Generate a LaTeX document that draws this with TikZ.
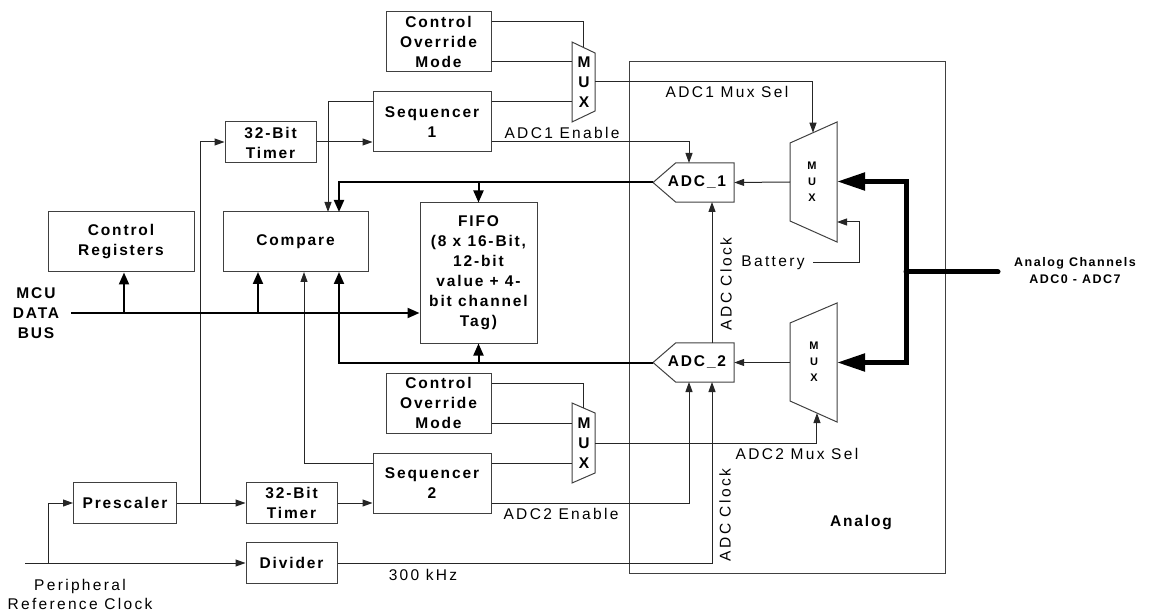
\documentclass[tikz,border=0pt]{standalone}
\usepackage{fontspec}
\setmainfont[LetterSpace=12]{Liberation Sans}
\usetikzlibrary{arrows.meta,calc}
\begin{document}
\begin{tikzpicture}[x=1pt,y=-1pt,
  box/.style={draw=black!75,line width=1pt,inner sep=0pt,align=center,font=\fontsize{15.5}{20}\selectfont\bfseries},
  shp/.style={draw=black!75,line width=1pt},
  lbl/.style={inner sep=0pt,font=\fontsize{15.5}{19}\selectfont\addfontfeature{LetterSpace=15}},
  blbl/.style={inner sep=0pt,align=center,font=\fontsize{15.5}{20}\selectfont\bfseries},
  wire/.style={line width=1pt,draw=black!85},
  arr/.style={-{Triangle[length=10pt,width=7pt]}},
  bus/.style={line width=2pt,draw=black},
  barr/.style={-{Triangle[length=12pt,width=10pt]}},
  fat/.style={line width=5pt,draw=black},
  farr/.style={-{Triangle[length=28pt,width=17pt]}}]
\useasboundingbox (0,0) rectangle (1151,612);

% analog region
\draw[shp] (629,62) rectangle (945,573);
\node[blbl] (analog) at (861,523) {Analog};

% boxes
\node[box,minimum width=105,minimum height=60] (com1) at (438.5,42) {Control\\Override\\Mode};
\node[box,minimum width=118,minimum height=60] (seq1) at (432,122) {Sequencer\\1};
\node[box,minimum width=91,minimum height=41] (tim1) at (270.5,142.5) {32-Bit\\Timer};
\node[box,minimum width=145,minimum height=60] (cmp) at (295.5,242) {Compare};
\node[box,minimum width=146,minimum height=60] (creg) at (121,242) {Control\\Registers};
\node[box,minimum width=117,minimum height=140] (fifo) at (478.5,273) {FIFO\\(8 x 16-Bit,\\12-bit\\value + 4-\\bit channel\\Tag)};
\node[box,minimum width=105,minimum height=60] (com2) at (438.5,403) {Control\\Override\\Mode};
\node[box,minimum width=118,minimum height=60] (seq2) at (432,483) {Sequencer\\2};
\node[box,minimum width=91,minimum height=41] (tim2) at (291.5,503) {32-Bit\\Timer};
\node[box,minimum width=103,minimum height=41] (pre) at (125,503) {Prescaler};
\node[box,minimum width=91,minimum height=41] (div) at (291.5,563) {Divider};

% ADC blocks
\node[inner sep=0pt,minimum width=58,minimum height=39] (adc1) at (705,182.5) {};
\draw[shp] (adc1.north east) -- (adc1.north west) -- (653,182.5) coordinate (adc1t) -- (adc1.south west) -- (adc1.south east) -- cycle;
\node[blbl] (adc1l) at (697,182.5) {ADC\_1};
\node[inner sep=0pt,minimum width=58,minimum height=39] (adc2) at (705,362.5) {};
\draw[shp] (adc2.north east) -- (adc2.north west) -- (653,362.5) coordinate (adc2t) -- (adc2.south west) -- (adc2.south east) -- cycle;
\node[blbl] (adc2l) at (697,362.5) {ADC\_2};

% digital muxes
\draw[shp] (572,42) coordinate (m1a) -- (595,53) coordinate (m1b) -- (595,111) -- (572,122) -- cycle;
\node[blbl] (m1t) at (584,82) {M\\U\\X};
\draw[shp] (572,403) coordinate (m2a) -- (595,413) coordinate (m2b) -- (595,473) -- (572,483) -- cycle;
\node[blbl] (m2t) at (584,443) {M\\U\\X};

% analog muxes
\draw[shp] (790,143) coordinate (a1a) -- (837,122) coordinate (a1b) -- (837,242) -- (790,221) -- cycle;
\node[inner sep=0pt,align=center,font=\fontsize{11}{16}\selectfont\bfseries] (a1t) at (812,182) {M\\U\\X};
\draw[shp] (790,323) -- (837,303) -- (837,422) coordinate (a2c) -- (790,401) coordinate (a2d) -- cycle;
\node[inner sep=0pt,align=center,font=\fontsize{11}{16}\selectfont\bfseries] (a2t) at (814,362) {M\\U\\X};

% coordinates on mux edges
\coordinate (m1top) at ($(m1a)!0.478!(m1b)$);
\coordinate (m2top) at ($(m2a)!0.478!(m2b)$);
\coordinate (a1top) at ($(a1a)!0.489!(a1b)$);
\coordinate (a2bot) at ($(a2d)!0.574!(a2c)$);

% control override / sequencer -> mux
\draw[wire] (com1.east |- 0,22) -| (m1top);
\draw[wire] (com1.east |- 0,62) -- (572,62);
\draw[wire] (seq1.east |- 0,102) -- (572,102);
\draw[wire] (com2.east |- 0,383) -| (m2top);
\draw[wire] (com2.east |- 0,423) -- (572,423);
\draw[wire] (seq2.east |- 0,463) -- (572,463);

% mux select lines
\draw[wire,arr] (595,82) -| (a1top);
\node[lbl] (sel1) at (727,92) {ADC1 Mux Sel};
\draw[wire,arr] (595,443) -| (a2bot);
\node[lbl] (sel2) at (797,454) {ADC2 Mux Sel};

% sequencer feedback to compare
\draw[wire,arr] (seq1.west |- 0,102) -| (328,212);
\draw[wire,arr] (seq2.west |- 0,463) -| (304,272);

% timers
\draw[wire,arr] (tim1.east |- 0,142) -- (seq1.west |- 0,142);
\draw[wire,arr] (tim2.east) -- (seq2.west |- tim2.east);
\draw[wire,arr] (pre.east) -- (tim2.west);
\draw[wire,arr] (200,503) |- (tim1.west |- 0,142);

% enables
\draw[wire,arr] (seq1.east |- 0,142) -| (689,163);
\node[lbl] (en1) at (562,133) {ADC1 Enable};
\draw[wire,arr] (seq2.east |- 0,503) -| (689,382);
\node[lbl] (en2) at (561,514) {ADC2 Enable};

% ADC clock
\draw[wire,arr] (712,343) -- (712,202);
\node[lbl,rotate=90] (ck1) at (726,284) {ADC Clock};
\draw[wire,arr] (div.east) -| (712,382);
\node[lbl,rotate=90] (ck2) at (725,515) {ADC Clock};
\node[lbl] (khz) at (423,575) {300 kHz};

% reference clock
\coordinate (clk) at (25,563);
\draw[wire,arr] (clk) -- (div.west);
\draw[wire,arr] (48,563) |- (pre.west);
\node[lbl,align=center] (prc) at (80,594) {Peripheral\\Reference Clock};

% analog mux -> ADC
\draw[wire,arr] (790,182) -- (adc1.east);
\draw[wire,arr] (790,362.5) -- (adc2.east);

% battery
\node[lbl] (bat) at (773,263) {Battery};
\draw[wire,arr] (813,263) -| (859,222) -- (837,222);

% ADC outputs
\draw[bus,barr] (adc1t) -| (339,212);
\draw[bus,barr] (478.5,182.5) -- (fifo.north);
\draw[bus,barr] (adc2t) -| (339,272);
\draw[bus,barr] (478.5,362.5) -- (fifo.south);

% MCU data bus
\node[blbl] (mcu) at (36,313) {MCU\\DATA\\BUS};
\draw[bus,barr] (71,313) -- (fifo.west |- 0,313);
\draw[bus,barr] (124,313) -- (creg.south -| 124,0);
\draw[bus,barr] (258,313) -- (258,272);

% analog channel bus
\draw[fat,line cap=round] (998,272) -- (906,272);
\draw[fat,farr] (906,272) |- (837,181.5);
\draw[fat,farr] (906,272) |- (837,362.5);
\node[inner sep=0pt,align=center,font=\fontsize{12.5}{17}\selectfont\bfseries] (ach) at (1075,271) {Analog Channels\\ADC0 - ADC7};
\end{tikzpicture}
\end{document}
